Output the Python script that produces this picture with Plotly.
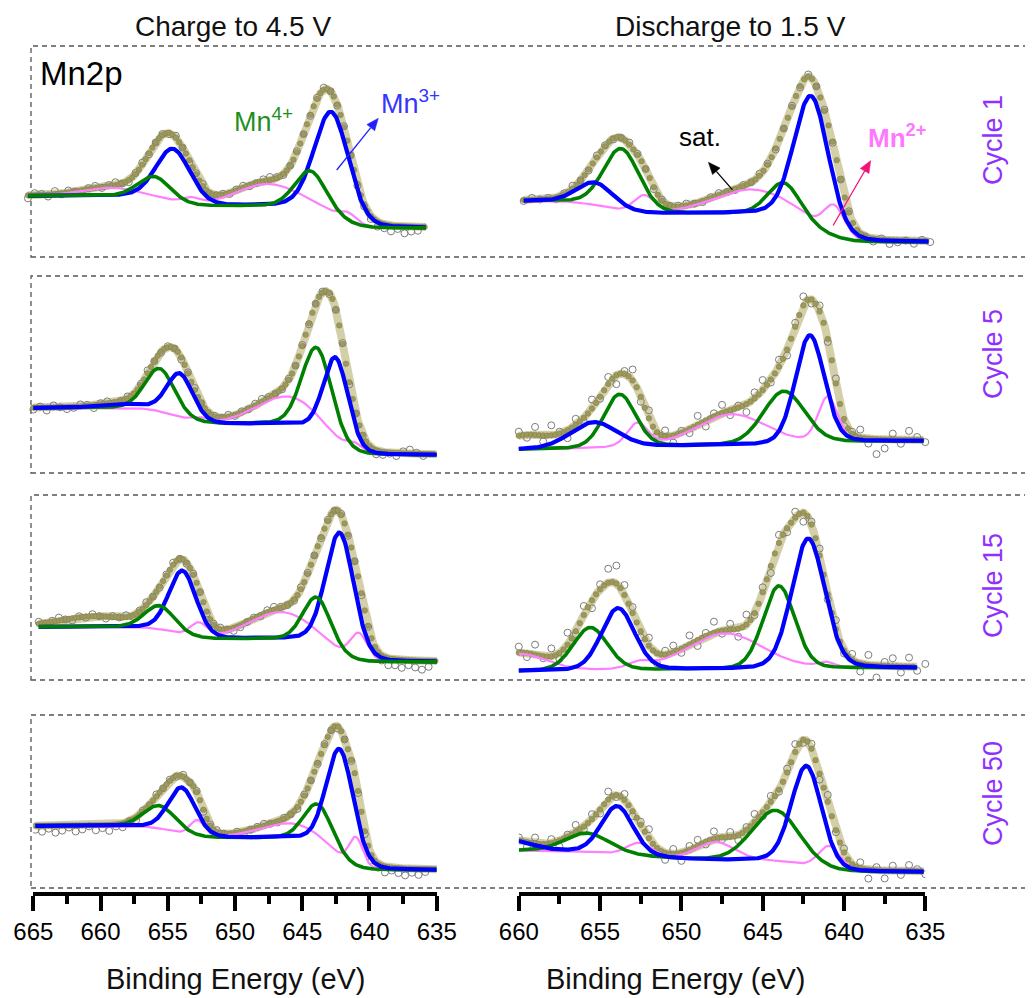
import math
import numpy as np
import plotly.graph_objects as go

# ------------------------------------------------------------------
# Text / axis content
# ------------------------------------------------------------------
column_titles = ["Charge to 4.5 V", "Discharge to 1.5 V"]
cycle_labels = ["Cycle 1", "Cycle 5", "Cycle 15", "Cycle 50"]
x_title = "Binding Energy (eV)"
ticks_charge = [665, 660, 655, 650, 645, 640, 635]
ticks_discharge = [660, 655, 650, 645, 640, 635]

# ------------------------------------------------------------------
# Fit parameters
# peaks: [centre (eV), height (a.u.), FWHM (eV)]
# background: [level low-BE side, level between doublet, level high-BE side]
# bg_steps: [step centre 2p3/2, step centre 2p1/2, step width 1, step width 2]
# extra: envelope intensity not drawn as a separate component
# resid: raw-data deviation from the fit at 0.5 eV steps (a.u.)
# ------------------------------------------------------------------
# Cycle 1 - charge
c1_chg_span = [665.4, 635.8]
c1_chg_bg = [29, 51, 61]
c1_chg_bg_steps = [642.5, 655.0, 1.4, 1.5]
c1_chg_mn3 = [[642.8, 103, 3.0], [654.6, 53, 3.0]]
c1_chg_mn4 = [[644.4, 37, 2.7], [656.0, 22, 2.8]]
c1_chg_mn2 = [[647.6, 22, 5.5], [641.6, 9, 1.5], [653.3, 6, 1.6], [659.3, 8, 5.0]]
c1_chg_extra = []
c1_chg_resid = [-3, 2, 1, -2, 3, -1, 2, 0, -2, 1, 2, -1, 1, 3, 0, -2, 1, 2, -1, 0,
                1, -1, 2, 0, -2, 1, 2, -1, 0, 1, -1, 1, 2, -1, 0, 2, 3, 1, -1, 0,
                1, 0, -1, 1, 2, 0, -1, 1, 0, -2, -2, -3, -5, -4, -6, -3, -7, -5, -4]

# Cycle 1 - discharge
c1_dis_span = [659.7, 634.8]
c1_dis_bg = [15, 43.5, 56]
c1_dis_bg_steps = [641.8, 654.8, 1.4, 1.5]
c1_dis_mn3 = [[642.0, 130, 2.5], [655.3, 23, 2.6]]
c1_dis_mn4 = [[643.7, 33, 2.3], [653.7, 62, 2.6]]
c1_dis_mn2 = [[645.7, 24, 5.5], [640.6, 29, 1.5], [652.3, 17, 1.5]]
c1_dis_extra = []
c1_dis_resid = [-1, 2, 0, 1, -2, 1, 3, 0, -1, 2, 1, -1, 0, 2, 1, 0, -2, 1, 0, 1,
                2, 0, -1, 1, 2, 0, -1, 1, 0, 2, 1, -1, 0, 1, -1, 2, 0, 1, -1, 0,
                1, -2, 0, -3, 1, -4, -2, 0, -3, 1, -1]

# Cycle 5 - charge
c5_chg_span = [665.0, 635.0]
c5_chg_bg = [18, 49, 65]
c5_chg_bg_steps = [643.1, 654.5, 1.4, 1.5]
c5_chg_mn3 = [[642.5, 87, 2.2], [654.1, 44, 2.3], [658.5, 4, 4.0]]
c5_chg_mn4 = [[643.9, 85, 2.6], [655.6, 43, 2.6]]
c5_chg_mn2 = [[646.1, 28, 5.5], [641.1, 7, 1.4], [652.6, 4, 1.5]]
c5_chg_extra = []
c5_chg_resid = [-2, 1, -3, 2, 0, -2, -1, 2, 1, -3, 1, 2, -1, 0, 2, -1, 1, 3, 0, -1,
                1, 0, -2, 1, 2, 0, -1, 1, 0, 2, -1, 1, 0, 2, 3, 1, 0, -1, 1, 0,
                1, -1, 0, 1, -1, 0, 1, -2, 0, -1, -2, -4, -3, -1, -3, 2, 4, 1, -2]

# Cycle 5 - discharge
c5_dis_span = [660.0, 635.1]
c5_dis_bg = [32, 27.5, 23.5]
c5_dis_bg_steps = [642.0, 654.0, 3.0, 3.0]
c5_dis_mn3 = [[642.1, 108, 2.1], [655.4, 26, 3.4]]
c5_dis_mn4 = [[643.7, 53, 3.0], [653.8, 53, 2.3]]
c5_dis_mn2 = [[646.9, 31, 5.0], [641.0, 45, 1.4], [652.7, 23, 1.5]]
c5_dis_extra = [[659.6, 13, 3.5]]
c5_dis_resid = [4, -3, 8, -6, 10, 2, -8, 6, -4, 9, -2, 7, -9, 3, 11, -5, 8, -3, 6, -7,
                2, -4, 9, -6, 3, 8, -5, 2, -8, 6, 10, -3, 7, -6, 4, 9, -4, 6, -3, 5,
                -7, 2, 8, -5, -15, -9, 6, -4, 9, 3, -2]

# Cycle 15 - charge
c15_chg_span = [664.6, 635.0]
c15_chg_bg = [18, 41, 53]
c15_chg_bg_steps = [642.9, 654.5, 1.4, 1.5]
c15_chg_mn3 = [[642.2, 122, 2.5], [653.9, 64, 2.4]]
c15_chg_mn4 = [[643.9, 47, 2.4], [655.6, 24, 2.6]]
c15_chg_mn2 = [[646.6, 27, 5.5], [640.8, 26, 1.5], [652.7, 14, 1.5]]
c15_chg_extra = [[660.5, 10, 6.0]]
c15_chg_resid = [2, -1, 1, 3, 0, -2, 1, -1, 2, 0, -2, 1, 0, 2, -1, 1, 3, 0, -1, 1,
                 2, 0, -1, 1, 0, -2, 1, 2, 0, -3, -2, 0, 1, -1, 2, 3, 1, 0, -1, 2,
                 1, 0, -1, 1, 0, 1, -1, 0, -2, -1, -3, -5, -7, -6, -8, -5, -7, -9, -6]

# Cycle 15 - discharge
c15_dis_span = [660.0, 635.5]
c15_dis_bg = [12, 10.5, 9]
c15_dis_bg_steps = [643.0, 654.0, 3.0, 3.0]
c15_dis_mn3 = [[642.2, 130, 2.4], [653.9, 62, 2.4]]
c15_dis_mn4 = [[644.0, 83, 2.3], [655.6, 43, 2.5]]
c15_dis_mn2 = [[647.3, 36, 5.5], [641.1, 5, 1.2], [652.6, 6, 1.6], [660.0, 17, 4.0]]
c15_dis_extra = [[654.6, 9, 3.0]]
c15_dis_resid = [6, -4, 10, -2, 8, -6, 12, -3, 9, -8, 5, 14, 18, 10, 6, -6, 8, -10, 4, 7,
                 -4, 9, -6, 3, 11, -3, 6, -8, 10, -2, 5, -7, 8, -4, 6, -9, 3, 7, -5, 9,
                 -3, 6, -8, 10, -12, 4, 8, -6, 9, -4, 3]

# Cycle 50 - charge
c50_chg_span = [664.85, 635.0]
c50_chg_bg = [18, 50, 62]
c50_chg_bg_steps = [642.8, 654.5, 1.4, 1.5]
c50_chg_mn3 = [[642.2, 110, 2.4], [653.95, 46, 2.4]]
c50_chg_mn4 = [[643.8, 41, 2.5], [655.6, 23, 2.8]]
c50_chg_mn2 = [[645.9, 15, 5.5], [641.0, 28, 1.2], [652.8, 16, 1.3]]
c50_chg_extra = []
c50_chg_resid = [-4, -6, -3, -7, -5, -2, -6, -4, -1, -5, -3, -6, -2, -4, 0, -3, 1, -1, 2, 0,
                 1, -1, 2, 0, 1, -2, 1, 2, 0, -1, 1, -2, 0, 1, 2, 0, -1, 1, 0, -2,
                 1, 0, -1, 1, 0, -2, 0, -1, -2, -3, -5, -4, -6, -3, -5, -7, -4, -6, -3]

# Cycle 50 - discharge
c50_dis_span = [660.0, 635.1]
c50_dis_bg = [16, 27.5, 37.5]
c50_dis_bg_steps = [642.2, 653.0, 1.4, 3.0]
c50_dis_mn3 = [[642.3, 100, 2.2], [653.95, 48, 2.3], [660.5, 10, 3.0]]
c50_dis_mn4 = [[644.2, 51, 3.4], [655.8, 19, 3.2]]
c50_dis_mn2 = [[647.9, 18, 2.8], [640.9, 24, 1.6], [652.6, 13, 1.8]]
c50_dis_extra = []
c50_dis_resid = [3, -5, 6, -2, 4, -6, 2, 7, -3, 5, -4, 8, -2, 6, -5, 3, 9, -4, -7, 5,
                 -8, 4, 6, -3, 7, -2, 5, -5, 3, 8, -4, 6, -2, 4, 8, -3, 5, -6, 7, -2,
                 4, -3, 6, -9, 3, -8, 5, -4, 6, 2, -3]

panels = [
    (c1_chg_span, c1_chg_bg, c1_chg_bg_steps, c1_chg_mn3, c1_chg_mn4, c1_chg_mn2, c1_chg_extra, c1_chg_resid),
    (c1_dis_span, c1_dis_bg, c1_dis_bg_steps, c1_dis_mn3, c1_dis_mn4, c1_dis_mn2, c1_dis_extra, c1_dis_resid),
    (c5_chg_span, c5_chg_bg, c5_chg_bg_steps, c5_chg_mn3, c5_chg_mn4, c5_chg_mn2, c5_chg_extra, c5_chg_resid),
    (c5_dis_span, c5_dis_bg, c5_dis_bg_steps, c5_dis_mn3, c5_dis_mn4, c5_dis_mn2, c5_dis_extra, c5_dis_resid),
    (c15_chg_span, c15_chg_bg, c15_chg_bg_steps, c15_chg_mn3, c15_chg_mn4, c15_chg_mn2, c15_chg_extra, c15_chg_resid),
    (c15_dis_span, c15_dis_bg, c15_dis_bg_steps, c15_dis_mn3, c15_dis_mn4, c15_dis_mn2, c15_dis_extra, c15_dis_resid),
    (c50_chg_span, c50_chg_bg, c50_chg_bg_steps, c50_chg_mn3, c50_chg_mn4, c50_chg_mn2, c50_chg_extra, c50_chg_resid),
    (c50_dis_span, c50_dis_bg, c50_dis_bg_steps, c50_dis_mn3, c50_dis_mn4, c50_dis_mn2, c50_dis_extra, c50_dis_resid),
]

# ------------------------------------------------------------------
# Line shapes
# ------------------------------------------------------------------
ETA = 0.15
_erf = np.vectorize(math.erf)


def peaks_sum(E, peaks):
    y = np.zeros_like(E, dtype=float)
    for c, h, w in peaks:
        d = (E - c) / w
        y += h * ((1 - ETA) * np.exp(-4 * np.log(2) * d * d) + ETA / (1 + 4 * d * d))
    return y


def background(E, levels, steps):
    lo, mid, hi = levels
    c1, c2, w1, w2 = steps
    s1 = 0.5 * (1 + _erf((E - c1) / (w1 * math.sqrt(2))))
    s2 = 0.5 * (1 + _erf((E - c2) / (w2 * math.sqrt(2))))
    return lo + (mid - lo) * s1 + (hi - mid) * s2


def envelope(E, bg, steps, groups):
    y = background(E, bg, steps)
    for g in groups:
        y = y + peaks_sum(E, g)
    return y


# ------------------------------------------------------------------
# Geometry (pixels of the 1033 x 998 screenshot; page body adds an 8 px offset)
# ------------------------------------------------------------------
W, H = 1033, 998
OFF = 8
row_top = [46, 276, 495, 715]
row_bot = [257, 473, 680, 888]
col_px = [(33.3, 13.447, 665.0), (518.8, 16.26, 660.0)]  # px at ref energy, px/eV, ref energy
hidden_pad = [1.5, 2.0]
axis_line_py = 894.0


def px_of(col, E):
    a, b, e0 = col_px[col]
    return a + b * (e0 - E)


def X(px):
    return (px - OFF) / W


def Y(py):
    return 1 - (py - OFF) / H


C_BLUE = "#0000ff"
C_GREEN = "#008000"
C_PINK = "#ff80ff"
C_ENV = "rgba(196,192,140,0.75)"
C_DOT = "#9d985b"
C_RAW = "#7d7d7d"
C_CYCLE = "#9030ff"
FONT = "Liberation Sans, Arial, sans-serif"

fig = go.Figure()
layout = dict()

for k, (span, bg, steps, mn3, mn4, mn2, extra, resid) in enumerate(panels):
    r, c = divmod(k, 2)
    idx = k + 1
    xname = "x" if idx == 1 else f"x{idx}"
    yname = "y" if idx == 1 else f"y{idx}"
    groups = [mn3, mn4, mn2, extra]

    E = np.linspace(span[0], span[1], 500)
    B = background(E, bg, steps)
    blue = B + peaks_sum(E, mn3)
    green = B + peaks_sum(E, mn4)
    pink = B + peaks_sum(E, mn2)
    env = envelope(E, bg, steps, groups)

    Er = np.array([span[0] - 0.5 * i for i in range(len(resid))])
    raw = envelope(Er, bg, steps, groups) + np.array(resid, dtype=float)

    Ed = np.arange(span[0], span[1], -0.25)
    dots = envelope(Ed, bg, steps, groups)

    common = dict(xaxis=xname, yaxis=yname, showlegend=False, hoverinfo="skip")
    fig.add_trace(go.Scatter(x=E, y=env, mode="lines",
                             line=dict(color=C_ENV, width=8), **common))
    fig.add_trace(go.Scatter(x=Er, y=raw, mode="markers",
                             marker=dict(symbol="circle-open", size=7, color=C_RAW,
                                         line=dict(width=1)), **common))
    fig.add_trace(go.Scatter(x=Ed, y=dots, mode="markers",
                             marker=dict(size=5.5, color=C_DOT,
                                         line=dict(width=0.6, color="#86824a")), **common))
    fig.add_trace(go.Scatter(x=E, y=pink, mode="lines",
                             line=dict(color=C_PINK, width=2.2), **common))
    if k in (0, 4):
        order = [(blue, C_BLUE, 4.2), (green, C_GREEN, 3.6)]
    else:
        order = [(green, C_GREEN, 3.6), (blue, C_BLUE, 4.2)]
    for yy, col, wd in order:
        fig.add_trace(go.Scatter(x=E, y=yy, mode="lines",
                                 line=dict(color=col, width=wd), **common))

    # axes
    if r < 3:
        rng = [col_px[c][2] + hidden_pad[c], 633.0]
        xa = dict(domain=[X(px_of(c, rng[0])), X(px_of(c, rng[1]))], range=rng,
                  visible=False, anchor=yname, automargin=False)
    else:
        ticks = ticks_charge if c == 0 else ticks_discharge
        rng = [col_px[c][2], 635.0]
        xa = dict(domain=[X(px_of(c, rng[0])), X(px_of(c, rng[1]))], range=rng,
                  anchor="free", position=Y(axis_line_py), automargin=False,
                  showline=True, linecolor="black", linewidth=4,
                  ticks="outside", ticklen=15, tickwidth=3.5, tickcolor="black",
                  tickmode="array", tickvals=ticks, ticktext=[str(t) for t in ticks],
                  tickfont=dict(family=FONT, size=24, color="black"),
                  minor=dict(dtick=2.5, tick0=635, ticks="outside", ticklen=8,
                             tickwidth=3.5, tickcolor="black"),
                  ticklabelstandoff=0,
                  showgrid=False, zeroline=False)
    ya = dict(domain=[Y(row_bot[r]), Y(row_top[r])], range=[0, row_bot[r] - row_top[r]],
              visible=False, anchor=xname, automargin=False)
    layout["xaxis" if idx == 1 else f"xaxis{idx}"] = xa
    layout["yaxis" if idx == 1 else f"yaxis{idx}"] = ya

# dashed frames
shapes = []
for r in range(4):
    shapes.append(dict(type="rect", xref="paper", yref="paper",
                       x0=X(31), x1=X(1045), y0=Y(row_bot[r]), y1=Y(row_top[r]),
                       line=dict(color="#555555", width=1.3, dash="5px,4px"),
                       layer="below"))

# arrows drawn as a shaft plus a filled head: (head x, head y, tail x, tail y, colour)
arrows = [(378.3, 118.3, 336.7, 170.0, "#2020ff"),
          (708.4, 162.3, 732.3, 189.6, "black"),
          (870.7, 160.6, 833.1, 225.5, "#f0147a")]
for hx, hy, tx, ty, colr in arrows:
    L = math.hypot(hx - tx, hy - ty)
    ux, uy = (hx - tx) / L, (hy - ty) / L
    hl, hw = 12.0, 5.0
    bx, by = hx - ux * hl, hy - uy * hl
    shapes.append(dict(type="line", xref="paper", yref="paper",
                       x0=X(tx), y0=Y(ty), x1=X(bx), y1=Y(by),
                       line=dict(color=colr, width=1.3)))
    p1 = (bx - uy * hw, by + ux * hw)
    p2 = (bx + uy * hw, by - ux * hw)
    path = (f"M {X(hx)} {Y(hy)} L {X(p1[0])} {Y(p1[1])} "
            f"L {X(p2[0])} {Y(p2[1])} Z")
    shapes.append(dict(type="path", xref="paper", yref="paper", path=path,
                       fillcolor=colr, line=dict(color=colr, width=0.5)))


def label(text, x, y, size, color, xanchor="center", angle=0):
    return dict(text=text, x=X(x), y=Y(y), xref="paper", yref="paper",
                xanchor=xanchor, yanchor="middle", showarrow=False, textangle=angle,
                font=dict(family=FONT, size=size, color=color))


ann = []
ann.append(label(column_titles[0], 233, 27, 28, "#111111"))
ann.append(label(column_titles[1], 730, 27, 28, "#111111"))
ann.append(label(x_title, 236, 979, 29, "#111111"))
ann.append(label(x_title, 676, 979, 29, "#111111"))
for r, lab in enumerate(cycle_labels):
    cy = [140, 354, 586, 794][r]
    ann.append(label(lab, 993, cy, 27, C_CYCLE, angle=-90))
ann.append(label("Mn2p", 38, 74, 33, "black", xanchor="left"))
ann.append(label("Mn<sup>4+</sup>", 232, 120, 27, "#1f8f1f", xanchor="left"))
ann.append(label("Mn<sup>3+</sup>", 379, 102, 27, "#3535ff", xanchor="left"))
ann.append(label("sat.", 700, 137, 26, "black"))
ann.append(label("<b>Mn<sup>2+</sup></b>", 866, 136, 26, "#ff77ff", xanchor="left"))

fig.update_layout(width=W, height=H, margin=dict(l=0, r=0, t=0, b=0, autoexpand=False),
                  paper_bgcolor="white", plot_bgcolor="rgba(0,0,0,0)",
                  shapes=shapes, annotations=ann, **layout)

fig.write_html("out.html")
